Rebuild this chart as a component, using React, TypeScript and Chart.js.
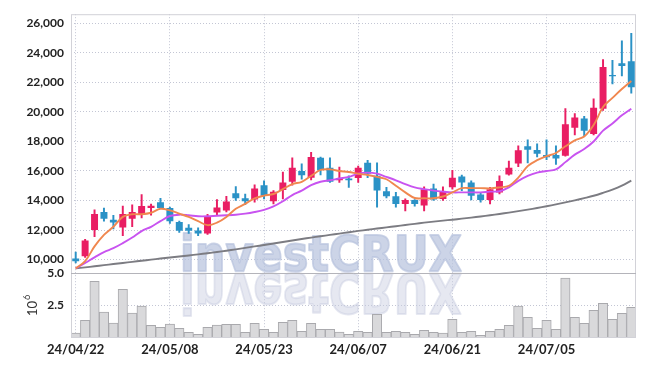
import React, { useEffect, useRef } from 'react';
import { Chart, registerables } from 'chart.js';
Chart.register(...registerables);

const dates = [
  '24/04/22','24/04/23','24/04/24','24/04/25','24/04/26','24/04/29','24/04/30','24/05/02','24/05/03','24/05/07',
  '24/05/08','24/05/09','24/05/10','24/05/13','24/05/14','24/05/16','24/05/17','24/05/20','24/05/21','24/05/22',
  '24/05/23','24/05/24','24/05/27','24/05/28','24/05/29','24/05/30','24/05/31','24/06/03','24/06/04','24/06/05',
  '24/06/07','24/06/10','24/06/11','24/06/12','24/06/13','24/06/14','24/06/17','24/06/18','24/06/19','24/06/20',
  '24/06/21','24/06/24','24/06/25','24/06/26','24/06/27','24/06/28','24/07/01','24/07/02','24/07/03','24/07/04',
  '24/07/05','24/07/08','24/07/09','24/07/10','24/07/11','24/07/12','24/07/15','24/07/16','24/07/17','24/07/18',
];

const opens = [
  10070,10220,12000,13220,12690,12170,12770,13040,13490,13890,
  13490,12550,12150,11970,11770,13190,13330,14490,14150,14070,
  15040,13950,14710,15270,16000,15550,16890,16220,15370,15490,
  15520,16550,15670,14620,14290,13770,14040,13670,14820,14110,
  14890,15620,15220,14400,14040,14550,15770,16510,17670,17420,
  17090,17090,17040,18930,19550,18510,20220,22510,23290,23440,
];
const highs = [
  10510,11370,13370,13490,13000,13620,13710,14400,13750,14150,
  13550,12600,12370,12150,13070,14070,14290,14950,14440,15070,
  15330,14670,15930,16890,16490,17270,16950,16890,16270,15670,
  16330,16730,16550,14890,14550,14110,14070,14930,15110,14930,
  16040,15730,15330,14550,14890,15670,16670,17710,18110,17840,
  18110,17710,20220,19890,19710,20890,23550,23490,24820,25330,
];
const lows = [
  9770,10150,11550,12600,12070,11620,12220,12820,13000,13440,
  12440,11840,11770,11620,11710,13000,13220,14000,13710,13890,
  14110,13770,14110,15040,15440,15400,15730,15220,15220,14890,
  15220,15550,13550,14170,13550,13290,13620,13290,14000,14000,
  14770,14670,14040,13890,13770,14440,15710,16290,16550,16950,
  16770,16440,17000,18440,18370,18440,20110,21890,22440,21270,
];
const closes = [
  9890,11290,13090,12770,12510,13090,13220,13620,13640,13490,
  12600,11950,11950,11770,12950,13520,13930,14150,13950,14820,
  14330,14600,15220,16220,15710,16950,16070,15270,15490,15370,
  16220,15820,14670,14290,13770,14040,13770,14770,14070,14600,
  15550,15220,14330,14040,14770,15330,16220,17400,17440,17170,
  16930,16840,19170,19620,18730,20290,23040,22420,23110,21670,
];
const ma5 = [
  9400,9890,10890,11670,12220,12890,13070,13070,13170,13440,
  13330,13110,12890,12600,12330,12500,12890,13440,13770,14150,
  14330,14440,14770,15110,15270,15670,16070,16110,16000,15930,
  15810,15730,15600,15440,15000,14550,14170,14150,14150,14270,
  14550,14840,14840,14840,14820,14890,15000,15550,16330,16730,
  17000,17220,17670,18070,18330,19110,20330,20950,21550,22100,
];
const ma10 = [
  9400,9770,10150,10510,10770,11110,11490,11930,12220,12600,
  12950,13040,13000,12930,12930,12970,13000,13040,13110,13220,
  13370,13600,13950,14370,14670,15040,15270,15370,15490,15600,
  15820,15890,15820,15600,15370,15110,14890,14770,14670,14600,
  14550,14550,14550,14550,14600,14630,14890,15330,15670,15890,
  16000,16110,16600,17110,17490,18000,18730,19220,19770,20220,
];
const ma60 = [
  9400,9470,9545,9620,9695,9770,9845,9920,9995,10070,
  10140,10210,10280,10350,10430,10510,10600,10690,10790,10890,
  10990,11090,11190,11290,11390,11490,11580,11670,11760,11850,
  11940,12020,12100,12180,12260,12340,12420,12500,12570,12640,
  12700,12770,12840,12920,13000,13090,13180,13280,13380,13490,
  13610,13740,13870,14010,14160,14320,14520,14740,15010,15350,
];
// volume in millions of shares
const volumes = [
  0.38,1.36,4.36,2.0,1.15,3.74,1.92,2.46,0.97,0.82,
  1.08,0.74,0.44,0.28,0.82,1.0,1.05,1.05,0.44,1.13,
  0.67,0.44,1.21,1.36,0.51,1.13,0.67,0.67,0.46,0.28,
  0.51,0.44,1.82,0.44,0.51,0.44,0.28,0.59,0.44,0.38,
  1.44,0.44,0.51,0.2,0.51,0.67,0.97,2.46,1.59,0.74,
  1.36,0.67,4.62,1.59,1.13,2.13,2.67,1.44,1.9,2.36,
];
const priceTicks = [10000, 12000, 14000, 16000, 18000, 20000, 22000, 24000, 26000];
const volumeTicks = [2.5, 5.0];

const UP = '#e91e63';
const DOWN = '#2b92c6';
const GRID = '#c3c6d4';
const FONT = 'Lato, "DejaVu Sans", sans-serif';

const decorPlugin = {
  id: 'decor',
  beforeDatasetsDraw(chart: any) {
    const { ctx, chartArea } = chart;
    const text = 'investCRUX';
    ctx.save();
    ctx.beginPath();
    ctx.rect(chartArea.left, chartArea.top, chartArea.right - chartArea.left, chartArea.bottom - chartArea.top);
    ctx.clip();
    ctx.font = 'bold 50px "DejaVu Sans", sans-serif';
    ctx.textBaseline = 'alphabetic';
    ctx.textAlign = 'left';
    ctx.lineJoin = 'round';
    const w = ctx.measureText(text).width;
    const sx = 282 / w;
    ctx.save();
    ctx.translate(180, 270.5);
    ctx.scale(sx, 1);
    ctx.globalAlpha = 0.72;
    ctx.fillStyle = 'rgb(184,195,222)';
    ctx.strokeStyle = 'rgb(184,195,222)';
    ctx.lineWidth = 2;
    ctx.fillText(text, 0, 0);
    ctx.strokeText(text, 0, 0);
    ctx.restore();
    ctx.save();
    ctx.translate(180, 273.5);
    ctx.scale(sx, -1.1);
    ctx.globalAlpha = 0.45;
    ctx.fillStyle = 'rgb(200,204,224)';
    ctx.strokeStyle = 'rgb(200,204,224)';
    ctx.lineWidth = 2;
    ctx.fillText(text, 0, 0);
    ctx.strokeText(text, 0, 0);
    ctx.restore();
    ctx.restore();
  },
  afterDraw(chart: any) {
    const { ctx, chartArea } = chart;
    const ys = chart.scales.y;
    const yv = chart.scales.yv;
    ctx.save();
    ctx.lineWidth = 1;
    ctx.strokeStyle = '#d2d2d8';
    ctx.strokeRect(chartArea.left + 0.5, chartArea.top + 0.5, chartArea.right - chartArea.left - 1, chartArea.bottom - chartArea.top - 1);
    ctx.strokeStyle = '#b4b4ba';
    ctx.beginPath();
    const sy = Math.round(ys.bottom) + 0.5;
    ctx.moveTo(chartArea.left, sy);
    ctx.lineTo(chartArea.right, sy);
    ctx.stroke();
    // volume unit label 10^6, rotated
    const cy = (yv.top + yv.bottom) / 2;
    ctx.translate(32, cy);
    ctx.rotate(-Math.PI / 2);
    ctx.fillStyle = '#333';
    ctx.textBaseline = 'alphabetic';
    ctx.textAlign = 'left';
    ctx.font = `13px ${FONT}`;
    const w10 = ctx.measureText('10').width;
    ctx.fillText('10', -w10 / 2 - 3, 5);
    ctx.font = `9px ${FONT}`;
    ctx.fillText('6', w10 / 2 - 2, -2);
    ctx.restore();
  },
};

export default function App() {
  const ref = useRef<HTMLCanvasElement>(null);
  useEffect(() => {
    if (!ref.current) return;
    const candleColors = closes.map((c, i) => (c >= opens[i] ? UP : DOWN));
    const chart = new Chart(ref.current, {
      type: 'bar',
      data: {
        labels: dates,
        datasets: [
          {
            type: 'line', label: 'MA5', data: ma5, yAxisID: 'y', borderColor: '#f0874f', borderWidth: 1.9,
            pointRadius: 0, tension: 0.35, order: 0,
          } as any,
          {
            type: 'line', label: 'MA10', data: ma10, yAxisID: 'y', borderColor: '#c853f0', borderWidth: 1.9,
            pointRadius: 0, tension: 0.35, order: 0,
          } as any,
          {
            type: 'line', label: 'MA60', data: ma60, yAxisID: 'y', borderColor: '#7c7c82', borderWidth: 1.9,
            pointRadius: 0, tension: 0.35, order: 0,
          } as any,
          {
            type: 'bar', label: 'wick', data: lows.map((l, i) => [l, highs[i]]), yAxisID: 'y',
            backgroundColor: candleColors, barThickness: 1.3, grouped: false, order: 2,
          } as any,
          {
            type: 'bar', label: 'body', data: opens.map((o, i) => [o, closes[i]]), yAxisID: 'y',
            backgroundColor: candleColors, barPercentage: 0.74, categoryPercentage: 1, grouped: false, order: 1,
          } as any,
          {
            type: 'bar', label: 'volume', data: volumes, yAxisID: 'yv',
            backgroundColor: '#d9d9db', borderColor: '#a9a9ad', borderWidth: 1,
            barPercentage: 1, categoryPercentage: 1, grouped: false, order: 3,
          } as any,
        ],
      },
      options: {
        animation: false,
        responsive: false,
        maintainAspectRatio: false,
        layout: { padding: { left: 0, right: 9, top: 9, bottom: 0 } },
        plugins: { legend: { display: false }, tooltip: { enabled: false } },
        scales: {
          x: {
            type: 'category',
            offset: true,
            afterFit: (s: any) => { s.height = 28; },
            grid: {
              offset: false,
              drawTicks: false,
              color: (c: any) => (c.index % 10 === 0 ? GRID : 'transparent'),
            },
            border: { display: false, dash: [1, 2] },
            ticks: {
              autoSkip: false,
              maxRotation: 0,
              padding: 4,
              color: '#222',
              font: { family: FONT, size: 13, weight: 'bold' },
              callback: (_v: any, i: number) => (i % 10 === 0 ? dates[i] : ''),
            },
          },
          yv: {
            type: 'linear',
            position: 'left',
            stack: 'panes',
            stackWeight: 66,
            min: 0,
            max: 5,
            afterFit: (s: any) => { s.width = 71; },
            afterBuildTicks: (s: any) => { s.ticks = volumeTicks.map((v) => ({ value: v })); },
            grid: { drawTicks: false, color: GRID },
            border: { display: false, dash: [1, 2] },
            ticks: {
              padding: 7,
              color: '#222',
              font: { family: FONT, size: 12, weight: 'bold' },
              callback: (v: any) => Number(v).toFixed(1),
            },
          },
          y: {
            type: 'linear',
            position: 'left',
            stack: 'panes',
            stackWeight: 263,
            min: 9087,
            max: 26620,
            afterFit: (s: any) => { s.width = 71; },
            afterBuildTicks: (s: any) => { s.ticks = priceTicks.map((v) => ({ value: v })); },
            grid: { drawTicks: false, color: GRID },
            border: { display: false, dash: [1, 2] },
            ticks: {
              padding: 7,
              color: '#222',
              font: { family: FONT, size: 12, weight: 'bold' },
              callback: (v: any) => Number(v).toLocaleString('en-US'),
            },
          },
        },
      } as any,
      plugins: [decorPlugin],
    });
    return () => chart.destroy();
  }, []);
  return (
    <div style={{ position: 'absolute', left: 0, top: 0, width: 645, height: 366, background: '#fff' }}>
      <canvas ref={ref} width={645} height={366} style={{ width: 645, height: 366, display: 'block' }} />
    </div>
  );
}
